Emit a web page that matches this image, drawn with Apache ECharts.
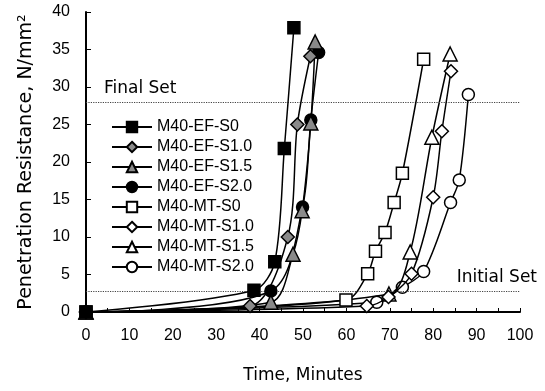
<!DOCTYPE html>
<html>
<head>
<meta charset="utf-8">
<script src="https://cdn.jsdelivr.net/npm/echarts@6/dist/echarts.min.js"></script>
<style>
  html, body { margin: 0; padding: 0; background: #fff; }
  #chart { width: 545px; height: 391px; }
</style>
</head>
<body>
<div id="chart"></div>
<script>
// setting time data: [minutes, N/mm2]
const efS0 = [[0, 0], [38.7, 2.9], [43.5, 6.7], [45.7, 21.8], [47.9, 37.9]];
const efS10 = [[0, 0], [37.8, 0.8], [46.5, 10.0], [48.7, 25.0], [51.7, 34.1]];
const efS15 = [[0, 0], [42.6, 1.3], [47.7, 7.7], [49.8, 13.5], [51.8, 25.2], [52.8, 36.0]];
const efS20 = [[0, 0], [42.6, 2.8], [49.9, 14.0], [51.8, 25.6], [53.6, 34.6]];
const mtS0 = [[0, 0], [59.9, 1.6], [64.9, 5.1], [66.7, 8.1], [68.9, 10.6], [71.0, 14.6], [72.9, 18.5], [77.8, 33.7]];
const mtS10 = [[0, 0], [64.7, 0.8], [69.7, 2.0], [75.0, 5.1], [80.0, 15.3], [82.0, 24.1], [84.1, 32.1]];
const mtS15 = [[0, 0], [69.8, 2.4], [74.7, 8.0], [79.7, 23.3], [83.9, 34.4]];
const mtS20 = [[0, 0], [67.0, 1.3], [72.9, 3.3], [77.8, 5.4], [84.0, 14.6], [86.0, 17.6], [88.1, 29.0]];

const seriesNames = ['M40-EF-S0', 'M40-EF-S1.0', 'M40-EF-S1.5', 'M40-EF-S2.0',
  'M40-MT-S0', 'M40-MT-S1.0', 'M40-MT-S1.5', 'M40-MT-S2.0'];
const seriesData = [efS0, efS10, efS15, efS20, mtS0, mtS10, mtS15, mtS20];
const symbols = ['rect', 'diamond', 'triangle', 'circle', 'rect', 'diamond', 'triangle', 'circle'];
const fills = ['#000', '#8a8a8a', '#8a8a8a', '#000', '#fff', '#fff', '#fff', '#fff'];

const initialSet = 2.8;
const finalSet = 28;

const font = 'Liberation Sans';
const chart = echarts.init(document.getElementById('chart'));

const series = seriesNames.map((name, i) => ({
  name,
  type: 'line',
  data: seriesData[i],
  smooth: 0.3,
  symbol: symbols[i],
  symbolSize: symbols[i] === 'triangle' ? 14 : symbols[i] === 'diamond' ? 13 : 12,
  lineStyle: { color: '#000', width: 1.5 },
  itemStyle: { color: fills[i], borderColor: '#000', borderWidth: 1.5 },
  z: 10 - i,
}));

series.push({
  type: 'line',
  data: [],
  silent: true,
  markLine: {
    symbol: 'none',
    silent: true,
    lineStyle: { color: '#444', type: 'dotted', width: 1.2 },
    data: [
      {
        yAxis: finalSet,
        label: {
          formatter: 'Final Set', position: 'insideStartTop',
          color: '#000', fontSize: 17, fontFamily: 'DejaVu Sans', offset: [13, 0],
        },
      },
      {
        yAxis: initialSet,
        label: {
          formatter: 'Initial Set', position: 'insideEndTop',
          color: '#000', fontSize: 17, fontFamily: 'DejaVu Sans', offset: [22, 0],
        },
      },
    ],
  },
});

const option = {
  animation: false,
  backgroundColor: '#fff',
  grid: { left: 86, right: 25, top: 12, bottom: 79 },
  legend: {
    orient: 'vertical',
    left: 106,
    top: 114,
    itemWidth: 40,
    itemHeight: 13,
    itemGap: 4,
    data: seriesNames,
    textStyle: { color: '#000', fontSize: 16, fontFamily: font },
  },
  xAxis: {
    type: 'value',
    min: 0,
    max: 100,
    interval: 10,
    name: 'Time, Minutes',
    nameLocation: 'middle',
    nameGap: 55,
    nameTextStyle: { color: '#000', fontSize: 17, fontFamily: 'DejaVu Sans' },
    axisLine: { lineStyle: { color: '#000', width: 2 } },
    axisTick: { inside: true, length: 4, lineStyle: { color: '#000' } },
    minorTick: { show: true, splitNumber: 2, length: 4, lineStyle: { color: '#000' } },
    axisLabel: { color: '#000', fontSize: 16, fontFamily: font, margin: 16 },
    splitLine: { show: false },
  },
  yAxis: {
    type: 'value',
    min: 0,
    max: 40,
    interval: 5,
    name: 'Penetration Resistance, N/mm²',
    nameLocation: 'middle',
    nameGap: 50,
    nameTextStyle: { color: '#000', fontSize: 19, fontFamily: 'DejaVu Sans' },
    axisLine: { lineStyle: { color: '#000', width: 2 } },
    axisTick: { inside: true, length: 5, lineStyle: { color: '#000' } },
    axisLabel: { color: '#000', fontSize: 16, fontFamily: font, margin: 16 },
    splitLine: { show: false },
  },
  series,
};

chart.setOption(option);
</script>
</body>
</html>
